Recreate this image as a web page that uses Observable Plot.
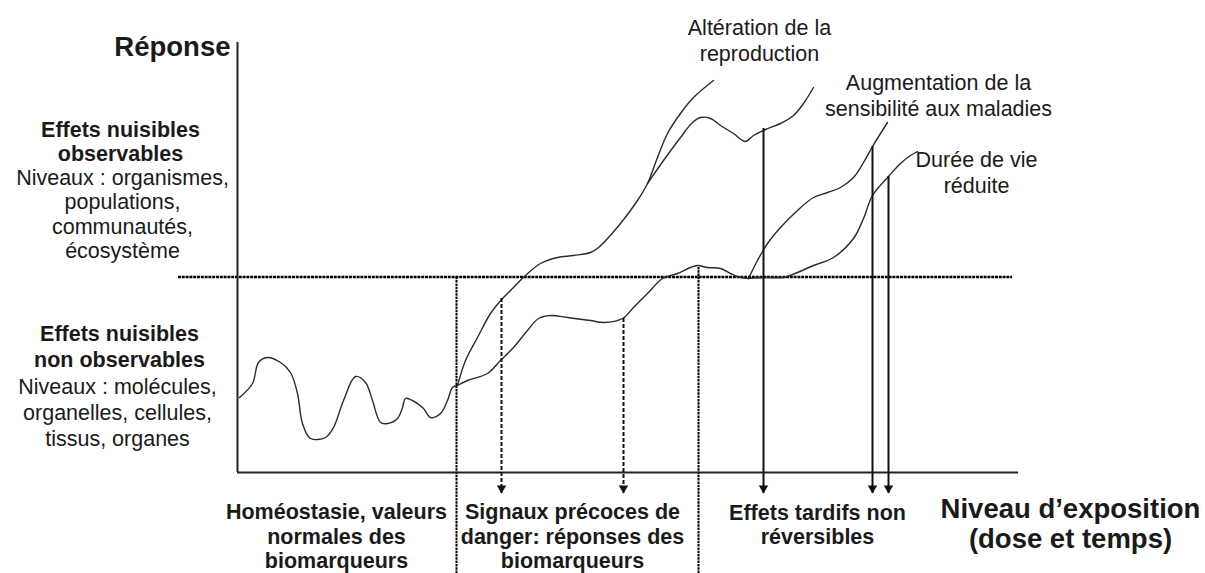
<!DOCTYPE html>
<html>
<head>
<meta charset="utf-8">
<script src="https://cdn.jsdelivr.net/npm/d3@7"></script>
<script src="https://cdn.jsdelivr.net/npm/@observablehq/plot@0.6"></script>
<style>
  html, body { margin: 0; padding: 0; background: #fff; }
  #chart svg { display: block; }
</style>
</head>
<body>
<div id="chart"></div>
<script>
// ---- Data: exposure level (dose) vs response, in diagram units ----
const homeostasis = [[239,176],[252,190],[258,211],[267,216],[280,211],[290,201],[297,180],[302,150],[310,135],[325,136],[333,146],[343,173],[355,197],[365,191],[372,173],[380,151],[387,150],[397,155],[402,166],[405,175],[412,173],[423,165],[430,156],[440,160],[447,173],[452,186],[457,188]];
const reproduction = [[457,188],[465,213],[477,236],[490,260],[502,275],[513,286],[525,298],[540,310],[557,316],[573,318],[590,321],[598,326],[620,350],[637,373],[647,390],[657,416],[667,440],[680,460],[693,476],[713,493]];
const reproductionPeak = [[647,390],[663,413],[680,436],[692,451],[700,456],[710,455],[720,448],[733,440],[745,432],[753,438],[765,444],[780,450],[793,458],[803,470],[813,486]];
const earlySignal = [[457,188],[467,193],[487,200],[500,213],[513,226],[527,243],[538,255],[550,258],[567,256],[590,253],[603,251],[622,255],[633,266],[647,280],[662,295],[677,300],[690,306],[697,308],[707,306],[720,305],[730,300],[740,296],[748,295]];
const disease = [[748,295],[757,313],[767,330],[780,346],[797,363],[813,376],[827,381],[840,386],[853,396],[863,411],[872,427],[887,451]];
const lifespan = [[748,295],[765,296],[783,296],[797,301],[813,308],[833,316],[853,335],[863,355],[872,378],[888,397],[900,410],[910,418],[917,422]];

// axes of the diagram
const originDose = 237, maxDose = 1018, baseResp = 101, topResp = 531;
const thresholdResp = 296.5, thresholdStart = 178, thresholdEnd = 1012;
const zoneBounds = [{dose: 456, top: 297}, {dose: 698, top: 306}];
const arrowTip = 80;
const earlyArrows = [{dose: 501, from: 275}, {dose: 623, from: 255}];
const lateArrows = [{dose: 763, from: 445}, {dose: 872, from: 427}, {dose: 888, from: 397}];

// text labels
const yTitle = "Réponse";
const xTitle = "Niveau d’exposition\n(dose et temps)";
const levelBold = ["Effets nuisibles\nobservables", "Effets nuisibles\nnon observables"];
const levelText = ["Niveaux : organismes,\npopulations,\ncommunautés,\nécosystème", "Niveaux : molécules,\norganelles, cellules,\ntissus, organes"];
const zoneText = ["Homéostasie, valeurs\nnormales des\nbiomarqueurs", "Signaux précoces de\ndanger: réponses des\nbiomarqueurs", "Effets tardifs non\nréversibles"];
const effectText = ["Altération de la\nreproduction", "Augmentation de la\nsensibilité aux maladies", "Durée de vie\nréduite"];

// label anchors (dose, response)
const zoneAnchors = [[336, 37.5], [572, 37.5], [817, 49]];
const effectAnchors = [[759, 534], [938, 479], [976, 402]];

const font = "Liberation Sans, Arial, Helvetica, sans-serif";
const ink = "#1a1a1a";
const lineInk = "#2b2b2b";

const curve = (data) => Plot.line(data, {curve: "catmull-rom", stroke: lineInk, strokeWidth: 1.4});

const chart = Plot.plot({
  width: 1205,
  height: 573,
  margin: 0,
  x: {domain: [0, 1205], range: [0, 1205], axis: null},
  y: {domain: [0, 573], range: [573, 0], axis: null},
  style: {fontFamily: font, background: "#fff"},
  marks: [
    // threshold (dotted)
    Plot.ruleY([thresholdResp], {x1: thresholdStart, x2: thresholdEnd, stroke: "#000", strokeWidth: 2.6, strokeDasharray: "3,0.8"}),
    // zone boundaries (dotted)
    Plot.ruleX(zoneBounds, {x: "dose", y1: 0, y2: "top", stroke: "#000", strokeWidth: 2, strokeDasharray: "2.5,0.8"}),
    // axes
    Plot.ruleX([originDose], {y1: baseResp, y2: topResp, stroke: "#222", strokeWidth: 2}),
    Plot.ruleY([baseResp], {x1: originDose, x2: maxDose, stroke: "#222", strokeWidth: 2}),
    // curves
    curve(homeostasis),
    curve(reproduction),
    curve(reproductionPeak),
    curve(earlySignal),
    curve(disease),
    curve(lifespan),
    // early (dashed) arrows
    Plot.ruleX(earlyArrows, {x: "dose", y1: "from", y2: arrowTip, stroke: "#111", strokeWidth: 2, strokeDasharray: "4,2"}),
    Plot.dot(earlyArrows, {x: "dose", y: arrowTip, symbol: "triangle", rotate: 180, r: 3.5, fill: "#111", stroke: "none", dy: -5.4}),
    // late (solid) arrows
    Plot.ruleX(lateArrows, {x: "dose", y1: "from", y2: arrowTip, stroke: "#111", strokeWidth: 2}),
    Plot.dot(lateArrows, {x: "dose", y: arrowTip, symbol: "triangle", rotate: 180, r: 3.5, fill: "#111", stroke: "none", dy: -5.4}),
    // titles
    Plot.text([yTitle], {x: 230, y: 526, text: d => d, textAnchor: "end", fontSize: 27.5, fontWeight: "bold", fill: ink}),
    Plot.text([xTitle], {x: 1070, y: 50, text: d => d, fontSize: 27.5, fontWeight: "bold", lineHeight: 1.1, fill: ink}),
    // left level descriptions
    Plot.text([levelBold[0]], {x: 120, y: 432.3, text: d => d, fontSize: 21.5, fontWeight: "bold", lineHeight: 1.14, fill: ink}),
    Plot.text([levelText[0]], {x: 122, y: 359.7, text: d => d, fontSize: 21.5, lineHeight: 1.14, fill: ink}),
    Plot.text([levelBold[1]], {x: 119, y: 228, text: d => d, fontSize: 21.5, fontWeight: "bold", lineHeight: 1.22, fill: ink}),
    Plot.text([levelText[1]], {x: 117, y: 162, text: d => d, fontSize: 21.5, lineHeight: 1.22, fill: ink}),
    // zone descriptions
    Plot.text(zoneText, {x: (d, i) => zoneAnchors[i][0], y: (d, i) => zoneAnchors[i][1], text: d => d, fontSize: 21.5, fontWeight: "bold", lineHeight: 1.13, fill: ink}),
    // effect labels
    Plot.text(effectText, {x: (d, i) => effectAnchors[i][0], y: (d, i) => effectAnchors[i][1], text: d => d, fontSize: 21.5, lineHeight: 1.2, fill: ink})
  ]
});
document.getElementById("chart").appendChild(chart);
</script>
</body>
</html>
